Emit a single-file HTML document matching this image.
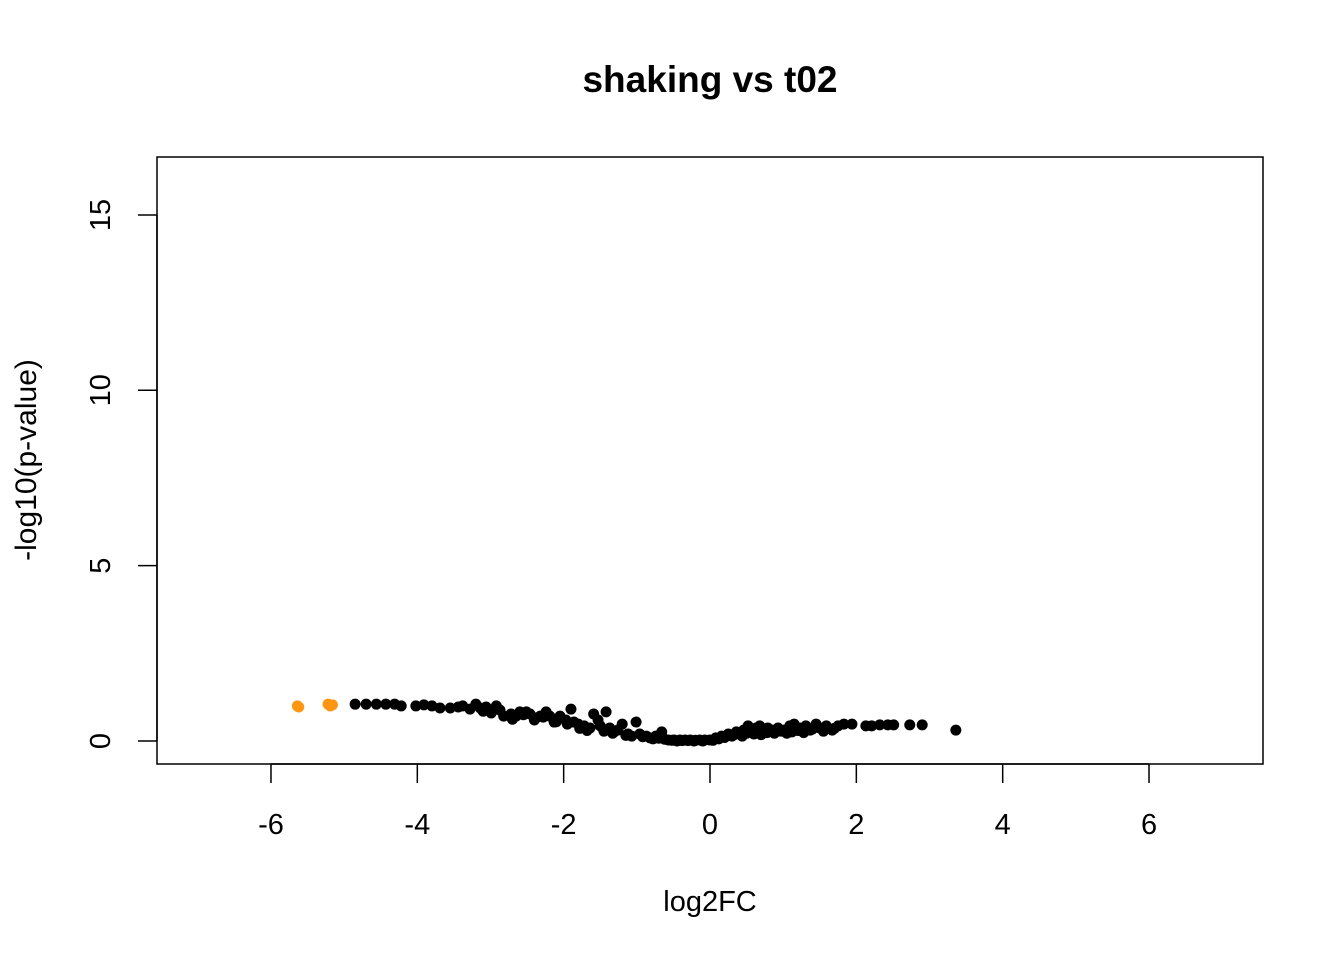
<!DOCTYPE html>
<html><head><meta charset="utf-8"><style>
html,body{margin:0;padding:0;background:#fff;}
svg text{font-family:"Liberation Sans",Arial,sans-serif;}
</style></head><body>
<svg id="chart" width="1344" height="960" viewBox="0 0 1344 960">
<text x="710" y="92" font-size="37" font-weight="bold" text-anchor="middle">shaking vs t02</text>
<rect x="157" y="157" width="1106" height="607" fill="none" stroke="#000" stroke-width="1.5"/>
<g id="xaxis"></g>
<g id="yaxis"></g>
<text x="710" y="911" font-size="29" text-anchor="middle">log2FC</text>
<text transform="translate(36,460) rotate(-90)" font-size="30" text-anchor="middle">-log10(p-value)</text>
<g id="points"></g>
</svg>
<script>
const xTicks=[-6,-4,-2,0,2,4,6];
const yTicks=[0,5,10,15];
const log2FC=[-5.64,-5.62,-5.22,-5.16,-5.19,-4.85,-4.70,-4.56,-4.43,-4.31,-4.22,-4.02,-3.91,-3.80,-3.69,-3.55,-3.44,-3.38,-3.28,-3.20,-3.14,-3.06,-2.99,-2.92,-2.87,-2.82,-2.72,-2.65,-2.60,-2.51,-2.46,-2.38,-2.32,-2.24,-2.19,-2.13,-2.05,-1.97,-1.90,-1.86,-1.80,-1.72,-1.64,-1.59,-1.53,-1.50,-1.42,-1.37,-1.31,-1.26,-1.20,-1.12,-1.07,-1.01,-0.96,-0.87,-0.82,-0.74,-0.66,-0.57,-0.49,-0.41,-0.34,-0.27,-0.20,-0.14,-0.07,0,0.08,0.16,0.25,0.30,0.36,0.41,0.46,0.52,0.57,0.63,0.68,0.74,0.79,0.85,0.93,1.01,1.09,1.15,1.23,1.31,1.37,1.45,1.50,1.59,1.67,1.75,1.83,1.94,2.13,2.21,2.32,2.43,2.51,2.73,2.90,3.36,
-3.10,-2.95,-2.70,-2.55,-2.40,-2.28,-2.10,-1.95,-1.78,-1.68,-1.45,-1.33,-1.15,-0.92,-0.78,-0.70,-0.62,-0.52,-0.45,-0.38,-0.30,-0.22,-0.10,0.04,0.12,0.20,0.33,0.44,0.50,0.60,0.70,0.78,0.88,0.97,1.05,1.12,1.20,1.28,1.40,1.55,1.70];
const negLogP=[1.00,0.97,1.05,1.03,1.00,1.05,1.05,1.05,1.05,1.05,1.00,1.00,1.03,1.00,0.94,0.94,0.97,1.00,0.91,1.05,0.94,0.97,0.80,1.00,0.88,0.71,0.77,0.71,0.83,0.83,0.77,0.66,0.71,0.83,0.71,0.54,0.71,0.60,0.91,0.54,0.48,0.43,0.37,0.77,0.60,0.43,0.83,0.37,0.26,0.31,0.48,0.20,0.14,0.54,0.20,0.14,0.09,0.14,0.26,0.03,0.03,0.03,0.03,0.03,0.02,0.03,0.03,0.03,0.09,0.14,0.20,0.14,0.26,0.20,0.31,0.43,0.26,0.37,0.43,0.26,0.37,0.31,0.37,0.31,0.43,0.48,0.37,0.43,0.31,0.48,0.37,0.43,0.31,0.43,0.48,0.48,0.43,0.43,0.46,0.46,0.46,0.46,0.46,0.31,
0.85,0.90,0.62,0.75,0.60,0.68,0.55,0.48,0.36,0.30,0.28,0.22,0.16,0.12,0.06,0.08,0.05,0.02,0.00,0.01,0.01,0.00,0.00,0.02,0.06,0.10,0.18,0.14,0.22,0.20,0.18,0.24,0.22,0.28,0.22,0.26,0.30,0.24,0.34,0.28,0.36];
const significant=[1,1,1,1,1];
const NS="http://www.w3.org/2000/svg";
const xS=v=>710+v*73.17;
const yS=v=>741-v*35.07;
const xa=document.getElementById('xaxis'),ya=document.getElementById('yaxis'),pg=document.getElementById('points');
function mk(t,a){const e=document.createElementNS(NS,t);for(const k in a)e.setAttribute(k,a[k]);return e;}
const xl=mk('line',{x1:xS(-6),x2:xS(6),y1:764,y2:764,stroke:'#000','stroke-width':1.5});


xa.appendChild(xl);
xTicks.forEach(t=>{
 const l=mk('line',{x1:xS(t),x2:xS(t),y1:764,y2:783,stroke:'#000','stroke-width':1.5});
 
 
 xa.appendChild(l);
 const tx=mk('text',{x:xS(t),y:834,'font-size':29,'text-anchor':'middle'});
 tx.textContent=t;
 
 
 xa.appendChild(tx);
});
const yl=mk('line',{x1:157,x2:157,y1:yS(0),y2:yS(15),stroke:'#000','stroke-width':1.5});


ya.appendChild(yl);
yTicks.forEach(t=>{
 const l=mk('line',{x1:138,x2:157,y1:yS(t),y2:yS(t),stroke:'#000','stroke-width':1.5});
 
 
 ya.appendChild(l);
 const tx=mk('text',{transform:`translate(110,${yS(t)}) rotate(-90)`,'font-size':29,'text-anchor':'middle'});
 tx.textContent=t;
 
 
 ya.appendChild(tx);
});
log2FC.forEach((x,i)=>{
 const c=mk('circle',{cx:xS(x),cy:yS(negLogP[i]),r:5.5,fill:significant[i]?'#ff9612':'#000'});
 
 
 pg.appendChild(c);
});
</script>
</body></html>
